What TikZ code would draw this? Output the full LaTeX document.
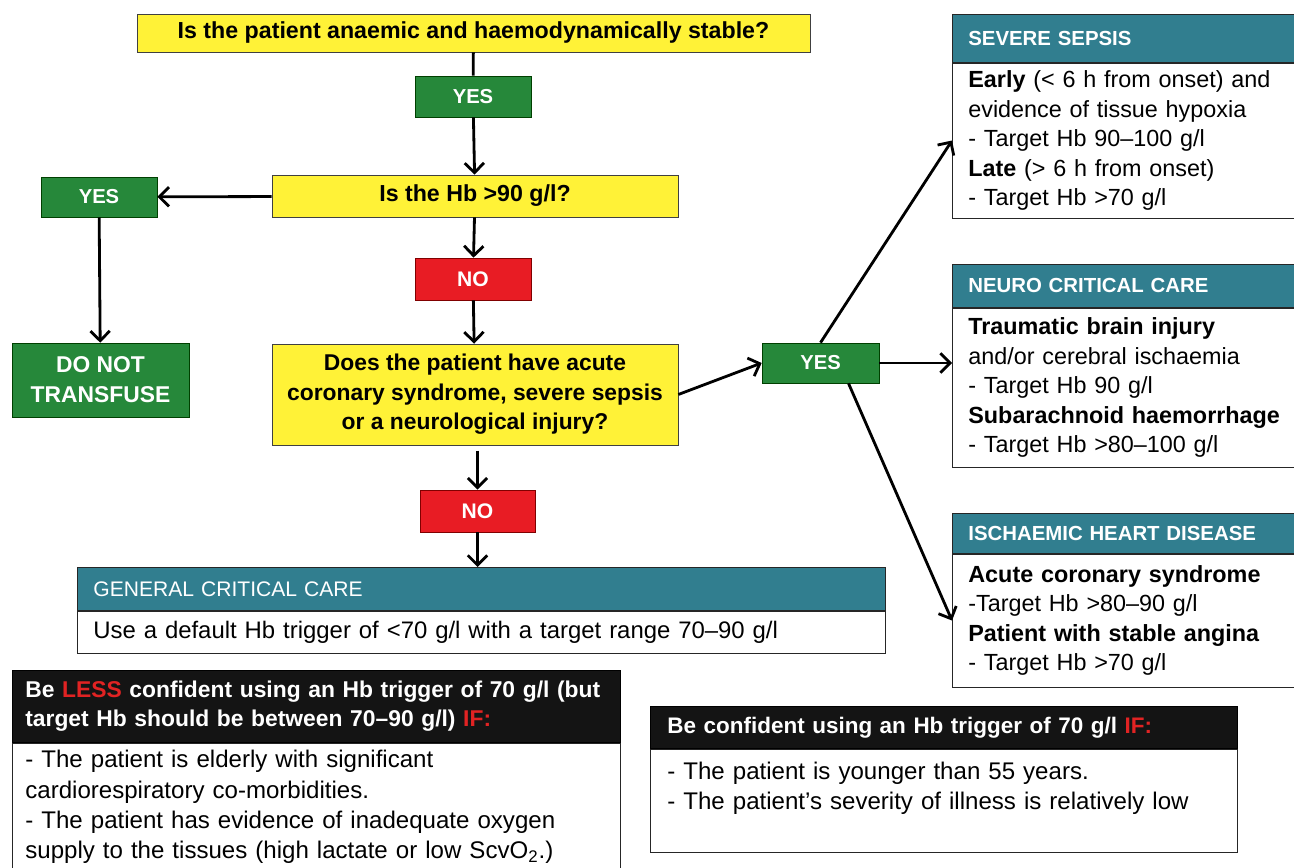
\documentclass[tikz,border=0pt]{standalone}
\usepackage{fontspec}
\setmainfont{Liberation Sans}
\usepackage{tikz}
\usetikzlibrary{positioning,arrows.meta}
\definecolor{qyellow}{RGB}{255,242,55}
\definecolor{okgreen}{RGB}{38,136,58}
\definecolor{nored}{RGB}{232,28,36}
\definecolor{hdteal}{RGB}{49,126,143}
\definecolor{warnred}{RGB}{225,35,35}
\tikzset{qb/.style={draw=black!75,fill=qyellow,align=center,inner sep=0pt,
font=\bfseries\fontsize{13.2}{16.8}\selectfont},yb/.style={draw=green!25!black,
fill=okgreen,text=white,inner sep=0pt,minimum width=2.32cm,minimum height=0.82cm,
font=\bfseries\fontsize{11.5}{14}\selectfont},nb/.style={draw=red!50!black,
fill=nored,text=white,inner sep=0pt,minimum width=2.32cm,minimum height=0.84cm,
font=\bfseries\fontsize{12}{14}\selectfont},hd/.style={draw=black!85,fill=hdteal,
text=white,align=left,inner xsep=0.32cm,inner ysep=0pt,anchor=north west,
font=\bfseries\fontsize{11.6}{14}\selectfont},bd/.style={draw=black!85,fill=white,
align=left,inner xsep=0.32cm,inner ysep=0pt,font=\fontsize{13.3}{16.8}\selectfont},
bk/.style={draw=black,fill=black!92,text=white,align=left,inner ysep=0pt,
anchor=north west,font=\bfseries\fontsize{13}{16.4}\selectfont},
arr/.style={line width=1.6pt,-{Straight Barb[length=5.5pt,width=11pt]}}}

\begin{document}
\begin{tikzpicture}[x=0.02cm,y=-0.02cm]
		\useasboundingbox (0,0) rectangle (1294,868);
		\node[qb,minimum width=13.46cm,minimum height=0.76cm] (stable) at (473.5,33) {Is the patient anaemic and haemodynamically stable?};
		\node[yb] (yes1) at (473,96.5) {YES};
		\node[qb,minimum width=8.12cm,minimum height=0.84cm] (hb90) at (475,196) {Is the Hb >90 g/l?};
		\node[yb,minimum height=0.8cm] (yes2) at (99,197) {YES};
		\node[yb,minimum width=3.54cm,minimum height=1.48cm,align=center,
			font=\bfseries\fontsize{13}{17}\selectfont] (nott) at (100.5,380) {DO NOT\\TRANSFUSE};
		\node[nb] (no1) at (473,279) {NO};
		\node[qb,minimum width=8.12cm,minimum height=2.02cm,font=\bfseries\fontsize{13}{16.8}\selectfont] (acute) at (475,394.5)
			{Does the patient have acute\\coronary syndrome, severe sepsis\\or a neurological injury?};
		\node[yb,minimum width=2.34cm,minimum height=0.8cm] (yes3) at (820.5,363) {YES};
		\node[nb,minimum width=2.3cm] (no2) at (477.5,511) {NO};

		\node[hd,text width=15.52cm,minimum height=0.86cm,font=\fontsize{12}{14}\selectfont] (genh) at (77,567) {GENERAL CRITICAL CARE};
		\node[bd,text width=15.52cm,minimum height=0.84cm,below=0pt of genh,font=\fontsize{13.6}{15}\selectfont] (genb)
			{Use a default Hb trigger of <70 g/l with a target range 70–90 g/l};

		\node[hd,text width=6.24cm,minimum height=0.96cm] (sepsish) at (952,14) {SEVERE SEPSIS};
		\node[bd,text width=6.24cm,minimum height=3.1cm,below=0pt of sepsish] (sepsisb)
			{\textbf{Early} (< 6 h from onset) and\\evidence of tissue hypoxia\\- Target Hb 90–100 g/l\\\textbf{Late} (> 6 h from onset)\\- Target Hb >70 g/l};
		\node[hd,text width=6.24cm,minimum height=0.86cm] (neuroh) at (952,264) {NEURO CRITICAL CARE};
		\node[bd,text width=6.24cm,minimum height=3.18cm,below=0pt of neuroh] (neurob)
			{\textbf{Traumatic brain injury}\\and/or cerebral ischaemia\\- Target Hb 90 g/l\\\textbf{Subarachnoid haemorrhage}\\- Target Hb >80–100 g/l};
		\node[hd,text width=6.24cm,minimum height=0.8cm] (ischh) at (952,513) {ISCHAEMIC HEART DISEASE};
		\node[bd,text width=6.24cm,minimum height=2.66cm,below=0pt of ischh] (ischb)
			{\textbf{Acute coronary syndrome}\\-Target Hb >80–90 g/l\\\textbf{Patient with stable angina}\\- Target Hb >70 g/l};

		\node[bk,text width=11.64cm,inner xsep=0.26cm,minimum height=1.44cm] (lessh) at (12,670)
			{Be \textcolor{warnred}{LESS} confident using an Hb trigger of 70 g/l (but\\target Hb should be between 70–90 g/l) \textcolor{warnred}{IF:}};
		\node[bd,text width=11.64cm,inner xsep=0.26cm,minimum height=2.56cm,below=0pt of lessh,
			font=\fontsize{13.7}{17.2}\selectfont] (lessb)
			{- The patient is elderly with significant\\cardiorespiratory co-morbidities.\\- The patient has evidence of inadequate oxygen\\supply to the tissues (high lactate or low ScvO\textsubscript{2}.)};
		\node[bk,text width=11.06cm,inner xsep=0.34cm,minimum height=0.84cm,font=\bfseries\fontsize{12.8}{16.4}\selectfont] (confh) at (650,706)
			{Be confident using an Hb trigger of 70 g/l \textcolor{warnred}{IF:}};
		\node[bd,text width=11.06cm,inner xsep=0.34cm,minimum height=2.06cm,below=0pt of confh,
			font=\fontsize{13.7}{17}\selectfont] (confb)
			{- The patient is younger than 55 years.\\- The patient’s severity of illness is relatively low\\\mbox{}};

		\draw[line width=1.6pt] (stable) -- (yes1);
		\draw[arr] (yes1) -- (hb90);
		\draw[arr] (hb90) -- (yes2);
		\draw[arr] (yes2) -- (nott);
		\draw[arr] (hb90) -- (no1);
		\draw[arr] (no1) -- (acute);
		\draw[arr] (acute.east) -- (yes3.west);
		\draw[arr] (yes3.north) -- (sepsisb.west);
		\draw[arr] (yes3.east) -- (yes3.east -| neurob.west);
		\draw[arr] ([xshift=0.56cm]yes3.south) -- (ischb.west);
		\draw[arr,shorten <=3pt] (acute.south -| no2.north) -- (no2.north);
		\draw[arr] (no2) -- (no2 |- genh.north);
	\end{tikzpicture}
\end{document}
